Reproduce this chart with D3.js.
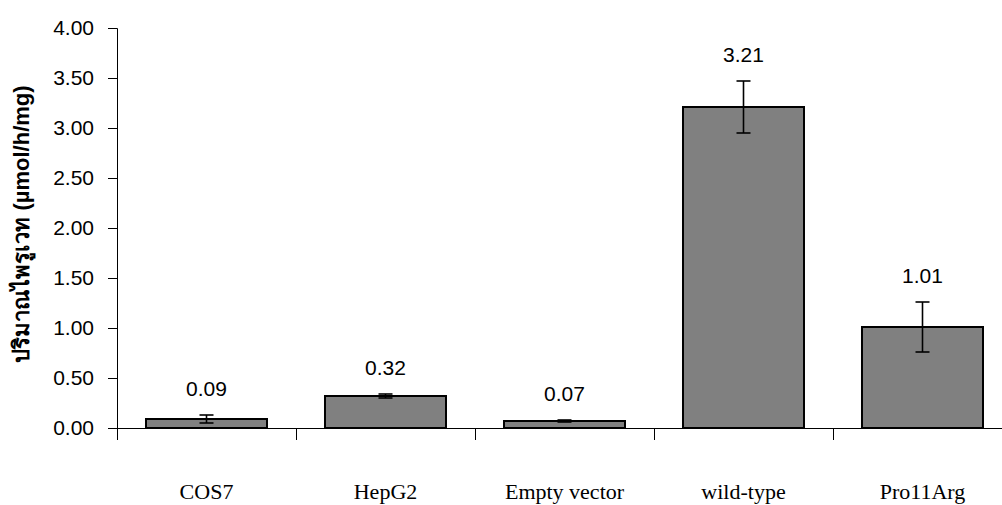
<!DOCTYPE html>
<html>
<head>
<meta charset="utf-8">
<script src="https://cdn.jsdelivr.net/npm/d3@7"></script>
<style>
  body { margin: 0; background: white; }
  svg { display: block; }
</style>
</head>
<body>
<script>
// data
const categories = ["COS7", "HepG2", "Empty vector", "wild-type", "Pro11Arg"]
const values = [0.09, 0.32, 0.07, 3.21, 1.01]
const errors = [0.04, 0.02, 0.01, 0.26, 0.25]
const yTicks = [0, 0.5, 1, 1.5, 2, 2.5, 3, 3.5, 4]
const yLabel = "ปริมาณไพรูเวท (µmol/h/mg)"

const w = 1002
const h = 505
const padLeft = 117
const padTop = 28
const axisY = 428
const step = 179

const svg = d3.select("body")
              .append("svg")
              .attr("width", w)
              .attr("height", h)

const xScale = d3.scaleBand()
                 .domain(categories)
                 .range([padLeft, padLeft + step * categories.length])
                 .paddingInner(0.324)
                 .paddingOuter(0.162)

const yScale = d3.scaleLinear()
                 .domain([0, 4])
                 .range([axisY, padTop])

// boundary ticks between categories
const boundScale = d3.scaleLinear()
                     .domain([0, categories.length])
                     .range([padLeft, padLeft + step * categories.length])

const yAxis = d3.axisLeft(yScale)
                .tickValues(yTicks)
                .tickFormat(d3.format(".2f"))
                .tickSize(9)
                .tickPadding(14)

svg.append("g")
   .attr("id", "y-axis")
   .attr("transform", "translate(" + padLeft + ",0)")
   .call(yAxis)
   .call(g => g.selectAll("text")
               .style("font-family", "Arial, 'Liberation Sans', sans-serif")
               .style("font-size", "21px")
               .attr("fill", "#000"))
   .call(g => g.selectAll("line, path").attr("stroke", "#000"))

// bars
svg.selectAll("rect.bar")
   .data(categories)
   .enter()
   .append("rect")
   .attr("class", "bar")
   .attr("x", d => xScale(d))
   .attr("width", xScale.bandwidth())
   .attr("y", (d, i) => yScale(values[i]))
   .attr("height", (d, i) => yScale(0) - yScale(values[i]))
   .attr("fill", "#808080")
   .attr("stroke", "#000")
   .attr("stroke-width", 2)

const xAxisLine = d3.axisBottom(boundScale)
                    .tickValues(d3.range(categories.length + 1))
                    .tickFormat("")
                    .tickSize(12)
                    .tickSizeOuter(0)

svg.append("g")
   .attr("id", "x-axis")
   .attr("transform", "translate(0," + axisY + ")")
   .call(xAxisLine)
   .call(g => g.selectAll("line, path").attr("stroke", "#000"))

const xAxisLabels = d3.axisBottom(xScale).tickSize(0).tickPadding(0)

svg.append("g")
   .attr("transform", "translate(0," + (axisY + 55) + ")")
   .call(xAxisLabels)
   .call(g => g.select(".domain").remove())
   .call(g => g.selectAll("text")
               .style("font-family", "'Times New Roman', 'Liberation Serif', serif")
               .style("font-size", "22px")
               .attr("fill", "#000"))

// error bars
const cap = 7
const err = svg.append("g").attr("stroke", "#000").attr("stroke-width", 1.6)
categories.forEach((c, i) => {
  const cx = xScale(c) + xScale.bandwidth() / 2
  const y1 = yScale(values[i] + errors[i])
  const y2 = yScale(values[i] - errors[i])
  err.append("line").attr("x1", cx).attr("x2", cx).attr("y1", y1).attr("y2", y2)
  err.append("line").attr("x1", cx - cap).attr("x2", cx + cap).attr("y1", y1).attr("y2", y1)
  err.append("line").attr("x1", cx - cap).attr("x2", cx + cap).attr("y1", y2).attr("y2", y2)
})

// value labels
svg.selectAll("text.value")
   .data(categories)
   .enter()
   .append("text")
   .attr("class", "value")
   .attr("x", d => xScale(d) + xScale.bandwidth() / 2)
   .attr("y", (d, i) => yScale(values[i] + errors[i]) - 19)
   .attr("text-anchor", "middle")
   .style("font-family", "Arial, 'Liberation Sans', sans-serif")
   .style("font-size", "21px")
   .text((d, i) => values[i].toFixed(2))

// y axis title
svg.append("text")
   .attr("transform", "translate(29,224) rotate(-90)")
   .attr("text-anchor", "middle")
   .style("font-family", "Arial, 'Liberation Sans', 'Noto Sans', sans-serif")
   .style("font-weight", "bold")
   .style("font-size", "22px")
   .text(yLabel)
</script>
</body>
</html>
